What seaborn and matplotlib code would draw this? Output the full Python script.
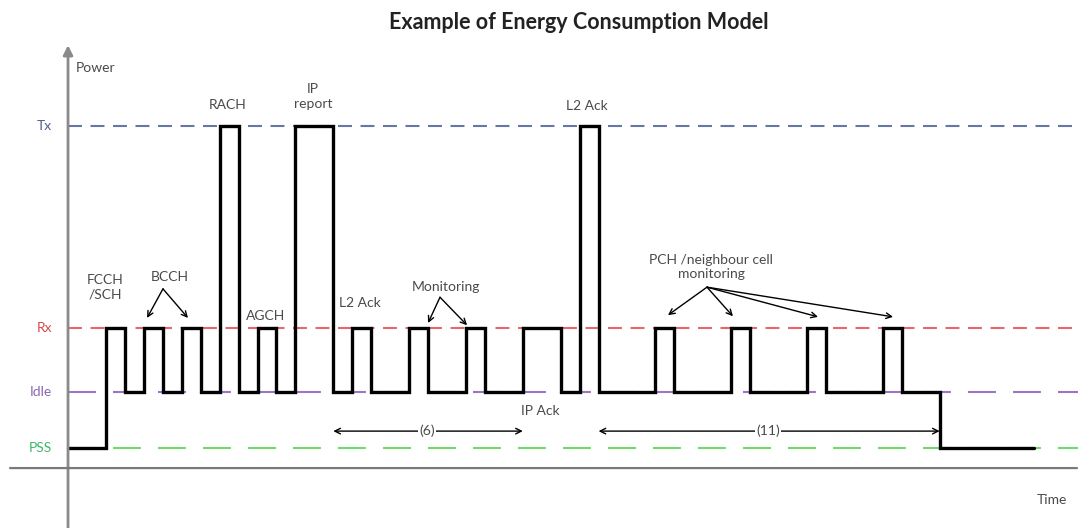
import numpy as np
import pandas as pd
import matplotlib
matplotlib.use("Agg")
import matplotlib.pyplot as plt
import seaborn as sns

# power levels (arbitrary units) and their colours
level_names = ["Tx", "Rx", "Idle", "PSS"]
level_values = [6.1, 2.5, 1.35, 0.35]
level_colors = ["#6677a6", "#e8676c", "#9b74c6", "#6fdc6a"]
label_colors = ["#4d5f95", "#dc4a4f", "#8a66b3", "#3fb86a"]

# state changes of the device (time in slots)
times = [0, 2, 3, 4, 5, 6, 7, 8, 9, 10, 11, 12, 14, 15, 16, 18, 19, 21, 22,
         24, 26, 27, 28, 31, 32, 35, 36, 39, 40, 43, 44, 46, 51]
states = ["PSS", "Rx", "Idle", "Rx", "Idle", "Rx", "Idle", "Tx", "Idle", "Rx",
          "Idle", "Tx", "Idle", "Rx", "Idle", "Rx", "Idle", "Rx", "Idle", "Rx",
          "Idle", "Tx", "Idle", "Rx", "Idle", "Rx", "Idle", "Rx", "Idle", "Rx",
          "Idle", "PSS", "PSS"]

# durations marked with double arrows
spans = [(14, 24, "(6)"), (28, 46, "(11)")]

sns.set_theme(style="white")
plt.rcParams["font.family"] = ["Lato", "DejaVu Sans"]

level_map = dict(zip(level_names, level_values))
df = pd.DataFrame({"time": times, "power": [level_map[s] for s in states]})

fig = plt.figure(figsize=(10.78, 5.28), dpi=100)
ax = fig.add_axes([0, 0, 1, 1])
ax.set_xlim(-3.59, 53.3)
ax.set_ylim(-1.07, 8.357)

txt = "#4a4a4a"

# level lines
dash_styles = [(0, (6.7, 4.1)), (0, (6.7, 4.1)), (0, (13.4, 8.2)), (0, (13.4, 8.2))]
for name, val, col, lcol, ls in zip(level_names, level_values, level_colors,
                                    label_colors, dash_styles):
    ax.hlines(val, 0, 53.3, colors=col, lw=1.5, linestyles=[ls], zorder=1)
    ax.text(-0.85, val, name, color=lcol, fontsize=10, ha="right", va="center")

# power trace
sns.lineplot(data=df, x="time", y="power", drawstyle="steps-post", color="black",
             lw=2.4, ax=ax, zorder=3, solid_joinstyle="miter")
ax.axis("off")

# axes with arrows
ax.annotate("", xy=(0, 7.55), xytext=(0, -1.07),
            arrowprops=dict(arrowstyle="-|>", color="#8a8a8a", lw=2,
                            shrinkA=0, shrinkB=0, mutation_scale=14))
ax.annotate("", xy=(53.25, 0), xytext=(-3.06, 0),
            arrowprops=dict(arrowstyle="-", color="#7a7a7a", lw=1.6,
                            shrinkA=0, shrinkB=0))
ax.text(0.42, 7.14, "Power", color=txt, fontsize=10, ha="left", va="center")
ax.text(51.9, -0.57, "Time", color=txt, fontsize=10, ha="center", va="center")

ax.text(26.97, 7.96, "Example of Energy Consumption Model", fontsize=15.5,
        fontweight="bold", color="#222222", ha="center", va="center")

# labels
labels = [
    (1.95, 3.23, "FCCH\n/SCH"),
    (5.39, 3.41, "BCCH"),
    (8.44, 6.48, "RACH"),
    (12.93, 6.63, "IP\nreport"),
    (10.45, 2.71, "AGCH"),
    (15.4, 2.95, "L2 Ack"),
    (19.95, 3.23, "Monitoring"),
    (24.9, 1.02, "IP Ack"),
    (27.39, 6.46, "L2 Ack"),
    (33.93, 3.59, "PCH /neighbour cell\nmonitoring"),
]
for x, y, s in labels:
    ax.text(x, y, s, color=txt, fontsize=10, ha="center", va="center",
            linespacing=1.25)

# pointer arrows
pointers = [
    ((5.01, 3.20), [(4.17, 2.68), (6.33, 2.68)]),
    ((19.63, 3.05), [(19.0, 2.59), (21.06, 2.55)]),
    ((33.72, 3.23), [(31.66, 2.73), (35.09, 2.71), (39.58, 2.70), (43.54, 2.70)]),
]
for start, heads in pointers:
    for h in heads:
        ax.annotate("", xy=h, xytext=start,
                    arrowprops=dict(arrowstyle="->", color="black", lw=1,
                                    shrinkA=0, shrinkB=0, mutation_scale=10))

# duration spans
for t0, t1, s in spans:
    ax.annotate("", xy=(t1, 0.66), xytext=(t0, 0.66),
                arrowprops=dict(arrowstyle="<->", color="black", lw=1,
                                shrinkA=0, shrinkB=0, mutation_scale=10))
    ax.text((t0 + t1) / 2 - 0.05, 0.66, s, color=txt, fontsize=10,
            ha="center", va="center",
            bbox=dict(facecolor="white", edgecolor="none", pad=1))

fig.savefig("out.png", dpi=100)
